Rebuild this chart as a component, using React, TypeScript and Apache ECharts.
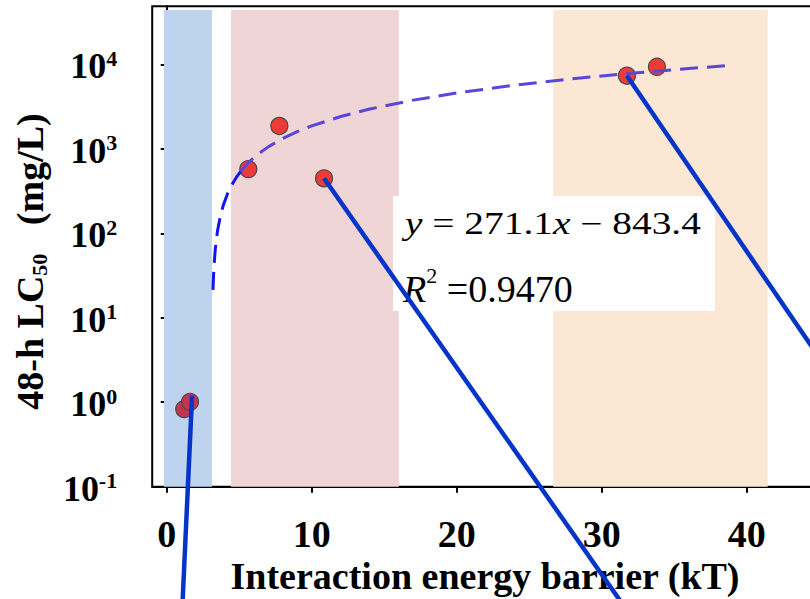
import React, { useEffect, useRef } from 'react';
import * as echarts from 'echarts';

const FONT = '"Liberation Serif", "Times New Roman", serif';

const xTicks = [0, 10, 20, 30, 40];
const yTicks = [0.1, 1, 10, 100, 1000, 10000];

const bandRanges = [[-0.19, 3.12], [4.43, 16.01], [26.66, 41.45]];
const bandColors = ['#BED4EE', '#F0D5D6', '#FCE6D4'];
const bandBottom = 0.1;
const bandTop = 44000;

const pointsX = [1.21, 1.61, 5.63, 7.77, 10.85, 31.74, 33.81];
const pointsY = [0.83, 1.01, 575, 1862, 447, 7330, 9340];
const pointColors = ['#C6354E', '#C6354E', '#EF3B36', '#EF3B36', '#EF3B36', '#EF3B36', '#EF3B36'];

// fitted curve y = 271.1x - 843.4
const fitBlueX = [3.19, 3.25, 3.35, 3.5, 3.7, 3.9, 4.2, 4.5, 4.8, 5.1];
const fitBlueY = [21.4, 37.7, 64.8, 105.5, 159.7, 213.9, 295.2, 376.6, 457.9, 539.2];
const fitPurpleX = [5.1, 5.6, 6.2, 7, 8, 9, 10, 12, 14, 17, 20, 24, 28, 32, 36, 38.9];
const fitPurpleY = [539.2, 674.8, 837.4, 1054.3, 1325.4, 1596.5, 1867.6, 2409.8, 2952, 3765.3, 4578.6, 5663, 6747.4, 7831.8, 8916.2, 9702.4];

// leader lines running out of the panel
const leaderA = [[1.75, 1.2], [1.07, 0.0035]];
const leaderB = [[10.85, 447], [31.3, 0.0044]];
const leaderC = [[31.74, 7330], [45.74, 2.2]];

const xName = 'Interaction energy barrier (kT)';
const eqLine1 = '{i|y}{n| = 271.1}{i|x}{n| \u2212 843.4}';
const eqLine2 = '{i|R}{s|2}{n| =0.9470}';

export default function App() {
  const ref = useRef<HTMLDivElement>(null);
  useEffect(() => {
    if (!ref.current) return;
    const chart = echarts.init(ref.current, undefined, { renderer: 'svg' });
    const pts = pointsX.map((x, i) => ({
      value: [x, pointsY[i]],
      itemStyle: { color: pointColors[i] },
    }));
    const leaderSeries = [leaderA, leaderB, leaderC].map((d) => ({
      type: 'line',
      data: d,
      symbol: 'none',
      clip: false,
      z: 5,
      lineStyle: { color: '#0535C8', width: 4.5 },
      silent: true,
    }));
    chart.setOption({
      animation: false,
      grid: {
        left: 152.2,
        top: 6.3,
        right: 8.3,
        bottom: 112.3,
        show: true,
        borderColor: '#000',
        borderWidth: 2,
        backgroundColor: '#fff',
      },
      xAxis: {
        type: 'value',
        min: -1,
        max: 50,
        splitLine: { show: false },
        axisLine: { lineStyle: { color: '#000', width: 2 } },
        axisTick: { customValues: xTicks, length: 6, lineStyle: { color: '#000', width: 2 } },
        axisLabel: {
          customValues: xTicks,
          margin: 28,
          color: '#000',
          fontFamily: FONT,
          fontWeight: 'bold',
          fontSize: 38,
        },
      },
      yAxis: {
        type: 'log',
        logBase: 10,
        min: 0.1,
        max: 48600,
        splitLine: { show: false },
        axisLine: { show: true, lineStyle: { color: '#000', width: 2 } },
        axisTick: { show: true, customValues: yTicks, length: 6, lineStyle: { color: '#000', width: 2 } },
        axisLabel: {
          customValues: yTicks,
          margin: 35,
          formatter: (v: number) => `{b|10}{s|${Math.round(Math.log10(v))}}`,
          padding: [4, 0, 0, 0],
          rich: {
            b: { fontFamily: FONT, fontWeight: 'bold', fontSize: 36, lineHeight: 38, color: '#000' },
            s: { fontFamily: FONT, fontWeight: 'bold', fontSize: 22, lineHeight: 26, verticalAlign: 'top', color: '#000' },
          },
        },
      },
      graphic: [
        { type: 'rect', z: 2, shape: { x: 393, y: 196, width: 322, height: 115 }, style: { fill: '#fff' } },
        {
          type: 'text', z: 2, x: 405, y: 223.7, scaleX: 1.27,
          style: {
            text: eqLine1, align: 'left', verticalAlign: 'middle', fill: '#000',
            fontFamily: FONT, fontSize: 31,
            rich: {
              i: { fontFamily: FONT, fontSize: 31, fontStyle: 'italic', fill: '#000', lineHeight: 34 },
              n: { fontFamily: FONT, fontSize: 31, fill: '#000', lineHeight: 34 },
            },
          },
        },
        {
          type: 'text', z: 2, x: 403, y: 289,
          style: {
            text: eqLine2, align: 'left', verticalAlign: 'middle', fill: '#000',
            fontFamily: FONT, fontSize: 38,
            rich: {
              i: { fontFamily: FONT, fontSize: 38, fontStyle: 'italic', fill: '#000', lineHeight: 50 },
              s: { fontFamily: FONT, fontSize: 22, fill: '#000', lineHeight: 17, verticalAlign: 'top' },
              n: { fontFamily: FONT, fontSize: 38, fill: '#000', lineHeight: 50 },
            },
          },
        },
        {
          type: 'text', z: 2, x: 485, y: 576,
          style: {
            text: xName, align: 'center', verticalAlign: 'middle', fill: '#000',
            fontFamily: FONT, fontWeight: 'bold', fontSize: 38,
          },
        },
        {
          type: 'text', z: 2, x: 30, y: 261.5, rotation: Math.PI / 2,
          style: {
            text: '{a|48-h LC}{s|50}{a|   (mg/L)}', align: 'center', verticalAlign: 'middle', fill: '#000',
            fontFamily: FONT, fontWeight: 'bold', fontSize: 38,
            rich: {
              a: { fontFamily: FONT, fontWeight: 'bold', fontSize: 38, lineHeight: 40, fill: '#000' },
              s: { fontFamily: FONT, fontWeight: 'bold', fontSize: 22, lineHeight: 27, verticalAlign: 'bottom', fill: '#000' },
            },
          },
        },
      ],
      series: [
        {
          type: 'scatter',
          z: 3,
          symbolSize: 17,
          data: pts,
          itemStyle: { borderColor: '#4A4A4A', borderWidth: 1.2, opacity: 1 },
          markArea: {
            silent: true,
            data: bandRanges.map((r, i) => [
              { xAxis: r[0], yAxis: bandBottom, itemStyle: { color: bandColors[i], opacity: 1 } },
              { xAxis: r[1], yAxis: bandTop },
            ]),
          },
        },
        {
          type: 'line',
          z: 4,
          data: fitBlueX.map((x, i) => [x, fitBlueY[i]]),
          symbol: 'none',
          lineStyle: { color: '#1414F0', width: 3, type: [18, 9] },
          silent: true,
        },
        {
          type: 'line',
          z: 4,
          data: fitPurpleX.map((x, i) => [x, fitPurpleY[i]]),
          symbol: 'none',
          lineStyle: { color: '#5A46DC', width: 3, type: [18, 9] },
          silent: true,
        },
        ...leaderSeries,
      ],
    });
    return () => chart.dispose();
  }, []);
  return (
    <div style={{ position: 'absolute', left: 0, top: 0, width: 810, height: 599, overflow: 'hidden', background: '#fff' }}>
      <div ref={ref} style={{ width: 900, height: 599 }} />
    </div>
  );
}
